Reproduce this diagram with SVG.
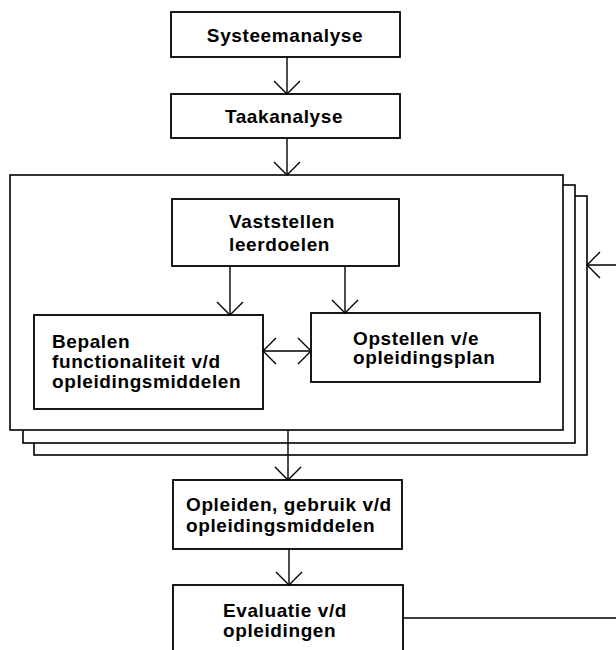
<svg xmlns="http://www.w3.org/2000/svg" width="616" height="650" viewBox="0 0 616 650">
<style>
.box{fill:#fff;stroke:#000;stroke-width:1.8}
.lay{fill:#fff;stroke:#000;stroke-width:1.6}
.t{font-family:"Liberation Sans",Arial,sans-serif;font-size:19px;font-weight:bold;letter-spacing:0.6px;fill:#000}
.c{text-anchor:middle}
.ln{fill:none;stroke:#000;stroke-width:1.4}
</style>
<defs>
<marker id="ah" markerUnits="userSpaceOnUse" markerWidth="30" markerHeight="30" refX="14" refY="15" orient="auto-start-reverse" viewBox="0 0 30 30">
<path d="M1,2 L14,15 L1,28" fill="none" stroke="#000" stroke-width="1.4"/>
</marker>
</defs>
<rect width="616" height="650" fill="#fff"/>
<g id="stack">
<rect class="lay" x="34" y="196" width="553" height="259"/>
<rect class="lay" x="23" y="185" width="552" height="258"/>
<rect class="lay" x="10" y="175" width="553" height="255"/>
</g>
<g id="n-systeemanalyse">
<rect class="box" x="171" y="12" width="229" height="45"/>
<text class="t c" x="285" y="42">Systeemanalyse</text>
</g>
<g id="n-taakanalyse">
<rect class="box" x="171" y="94" width="229" height="44"/>
<text class="t c" x="284" y="123">Taakanalyse</text>
</g>
<g id="n-vaststellen">
<rect class="box" x="172" y="199" width="227" height="67"/>
<text class="t" x="229" y="228">Vaststellen</text>
<text class="t" x="229" y="251">leerdoelen</text>
</g>
<g id="n-bepalen">
<rect class="box" x="34" y="315" width="229" height="94"/>
<text class="t" x="52" y="348">Bepalen</text>
<text class="t" x="52" y="368">functionaliteit v/d</text>
<text class="t" x="52" y="388">opleidingsmiddelen</text>
</g>
<g id="n-opstellen">
<rect class="box" x="311" y="313" width="229" height="69"/>
<text class="t" x="353" y="345">Opstellen v/e</text>
<text class="t" x="353" y="364">opleidingsplan</text>
</g>
<g id="n-opleiden">
<rect class="box" x="173" y="480" width="229" height="69"/>
<text class="t" x="186" y="511">Opleiden, gebruik v/d</text>
<text class="t" x="186" y="532">opleidingsmiddelen</text>
</g>
<g id="n-evaluatie">
<rect class="box" x="173" y="585" width="230" height="80"/>
<text class="t" x="223" y="617">Evaluatie v/d</text>
<text class="t" x="223" y="637">opleidingen</text>
</g>
<g id="connectors">
<line class="ln" x1="287" y1="57" x2="287" y2="94" marker-end="url(#ah)"/>
<line class="ln" x1="287" y1="138" x2="287" y2="175" marker-end="url(#ah)"/>
<line class="ln" x1="230" y1="266" x2="230" y2="315" marker-end="url(#ah)"/>
<line class="ln" x1="345" y1="266" x2="345" y2="313" marker-end="url(#ah)"/>
<line class="ln" x1="263" y1="351" x2="311" y2="351" marker-start="url(#ah)" marker-end="url(#ah)"/>
<line class="ln" x1="288" y1="430" x2="288" y2="480" marker-end="url(#ah)"/>
<line class="ln" x1="289" y1="549" x2="289" y2="585" marker-end="url(#ah)"/>
<path class="ln" d="M403,618 H640 V265 H587" marker-end="url(#ah)"/>
</g>
</svg>
